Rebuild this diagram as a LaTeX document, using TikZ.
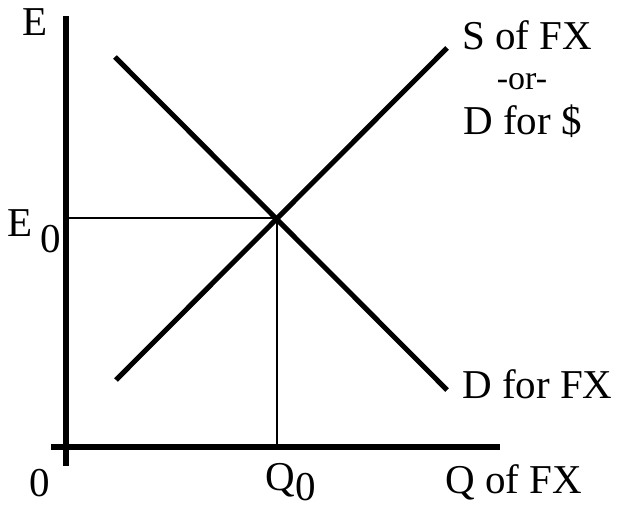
\documentclass[tikz,border=0pt]{standalone}
\usepackage{fontspec}
\setmainfont{Liberation Serif}
\tikzset{
  axisline/.style={line width=6pt},
  curveline/.style={line width=5pt},
  guideline/.style={line width=1.8pt},
  lbl/.style={inner sep=0pt, anchor=base west, font=\fontsize{41}{45}\selectfont},
  smalllbl/.style={inner sep=0pt, anchor=base, font=\fontsize{34}{38}\selectfont}
}
\begin{document}
\begin{tikzpicture}[x=1pt,y=-1pt]
\useasboundingbox (0,0) rectangle (618,510);
% axes
\coordinate (ytop) at (66,16);
\coordinate (ybot) at (66,466);
\coordinate (xleft) at (51,447);
\coordinate (xright) at (500,447);
\draw[axisline] (ytop) -- (ybot);
\draw[axisline] (xleft) -- (xright);
% curves
\coordinate (dstart) at (115,57);
\coordinate (dend) at (447,390);
\coordinate (sstart) at (116,380);
\coordinate (send) at (447,48);
\draw[curveline] (dstart) -- (dend);
\draw[curveline] (sstart) -- (send);
% equilibrium guides
\coordinate (eq) at (277,218);
\coordinate (eaxis) at (68,218);
\coordinate (qaxis) at (277,446);
\draw[guideline] (eaxis) -- (eq) -- (qaxis);
% labels
\node[lbl] (lE) at (22,36) {E};
\node[lbl] (lE0) at (7,237) {E};
\node[lbl] (lE0s) at (40,253) {0};
\node[lbl] (lzero) at (29,496) {0};
\node[lbl] (lQ0) at (265,490) {Q};
\node[lbl] (lQ0s) at (295,500) {0};
\node[lbl] (lQ) at (445,493) {Q of FX};
\node[lbl] (lS) at (462,50) {S of FX};
\node[smalllbl] (lor) at (522,90) {-or-};
\node[lbl] (lDd) at (463,135) {D for \$};
\node[lbl] (lD) at (462,398) {D for FX};
\end{tikzpicture}
\end{document}
